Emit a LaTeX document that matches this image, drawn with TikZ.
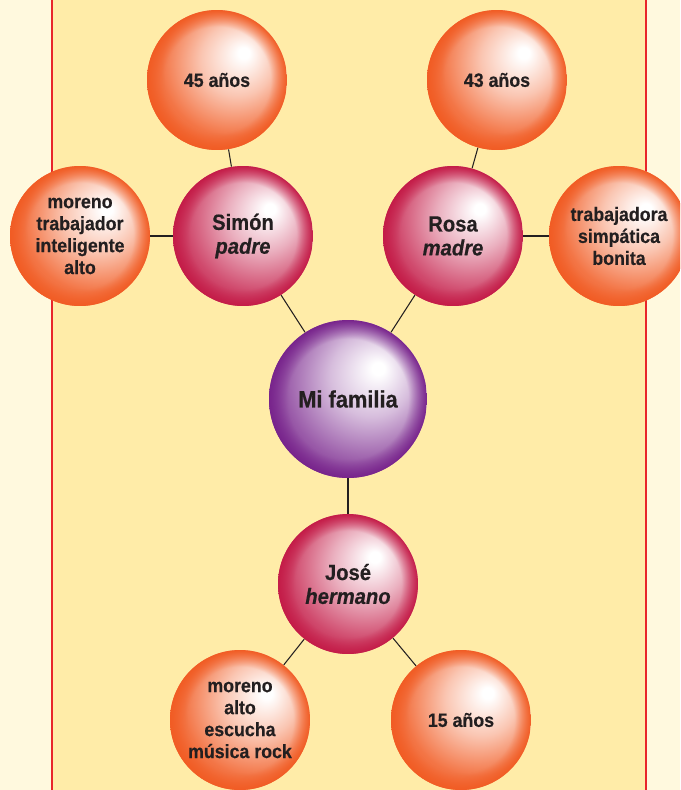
\documentclass[tikz,border=0pt]{standalone}
\usepackage{fontspec}
\setmainfont[FakeStretch=0.92, BoldFeatures={FakeBold=0.4}, BoldItalicFeatures={FakeBold=0.4}]{Liberation Sans}
\usetikzlibrary{fadings}
\definecolor{fondo}{RGB}{255,249,222}
\definecolor{panel}{RGB}{255,236,168}
\definecolor{borde}{RGB}{232,38,42}
\definecolor{naranja}{RGB}{241,92,36}
\definecolor{rojo}{RGB}{196,28,72}
\definecolor{morado}{RGB}{120,36,140}
\definecolor{texto}{RGB}{35,31,32}
\pgfdeclareradialshading{bolanaranja}{\pgfpoint{10bp}{10bp}}{color(0bp)=(white); color(2bp)=(white); color(13bp)=(naranja!35!white); color(25bp)=(naranja!85!white); color(34bp)=(naranja); color(50bp)=(naranja)}
\pgfdeclareradialshading{bolarojo}{\pgfpoint{10bp}{10bp}}{color(0bp)=(white); color(2bp)=(white); color(13bp)=(rojo!35!white); color(25bp)=(rojo!80!white); color(34bp)=(rojo); color(50bp)=(rojo)}
\pgfdeclareradialshading{bolamorado}{\pgfpoint{10bp}{10bp}}{color(0bp)=(white); color(2bp)=(white); color(13bp)=(morado!30!white); color(25bp)=(morado!75!white); color(34bp)=(morado); color(50bp)=(morado)}
\pgfdeclareradialshading{anillo}{\pgfpointorigin}{color(0bp)=(black); color(19bp)=(black); color(25bp)=(white); color(50bp)=(white)}
\pgfdeclarefading{anillo}{\pgfuseshading{anillo}}
\tikzset{
  bola/.style={circle, minimum size=2.8cm, inner sep=0pt, align=center, text=texto,
    font=\bfseries\fontsize{11}{12.5}\selectfont},
  rasgo/.style={bola, shade, shading=bolanaranja, path picture={\fill[naranja, path fading=anillo]
    (path picture bounding box.south west) rectangle (path picture bounding box.north east);}},
  persona/.style={bola, font=\bfseries\fontsize{12.5}{13.6}\selectfont, shade, shading=bolarojo,
    path picture={\fill[rojo, path fading=anillo]
    (path picture bounding box.south west) rectangle (path picture bounding box.north east);}},
  centro/.style={bola, minimum size=3.16cm, font=\bfseries\fontsize{13.5}{15}\selectfont, shade, shading=bolamorado,
    path picture={\fill[morado, path fading=anillo]
    (path picture bounding box.south west) rectangle (path picture bounding box.north east);}},
  enlace/.style={texto, line width=0.6pt}
}
\begin{document}
\begin{tikzpicture}[x=0.02cm, y=-0.02cm]
  \useasboundingbox (0,0) rectangle (680,790);
  \clip (0,0) rectangle (680,790);
  \fill[fondo] (0,0) rectangle (680,790);
  \fill[panel] (52,0) rectangle (646,790);
  \draw[borde, line width=1.6pt] (52,0) -- (52,790);
  \draw[borde, line width=1.6pt] (646,0) -- (646,790);

  \node[centro] (familia) at (348,399) {Mi familia};
  \node[persona] (padre) at (243,236) {Simón\\\textit{padre}};
  \node[persona] (madre) at (453,236) {Rosa\\\textit{madre}};
  \node[persona] (hermano) at (348,584) {José\\\textit{hermano}};
  \node[rasgo] (edadpadre) at (217,80) {45 años};
  \node[rasgo] (edadmadre) at (497,80) {43 años};
  \node[rasgo] (rasgospadre) at (80,236) {moreno\\trabajador\\inteligente\\alto};
  \node[rasgo] (rasgosmadre) at (619,236) {trabajadora\\simpática\\bonita};
  \node[rasgo] (rasgoshermano) at (240,720) {moreno\\alto\\escucha\\música rock};
  \node[rasgo] (edadhermano) at (461,720) {15 años};

  \draw[enlace] (familia) -- (padre);
  \draw[enlace] (familia) -- (madre);
  \draw[enlace] (familia) -- (hermano);
  \draw[enlace] (padre) -- (edadpadre);
  \draw[enlace] (padre) -- (rasgospadre);
  \draw[enlace] (madre) -- (edadmadre);
  \draw[enlace] (madre) -- (rasgosmadre);
  \draw[enlace] (hermano) -- (rasgoshermano);
  \draw[enlace] (hermano) -- (edadhermano);
\end{tikzpicture}
\end{document}
